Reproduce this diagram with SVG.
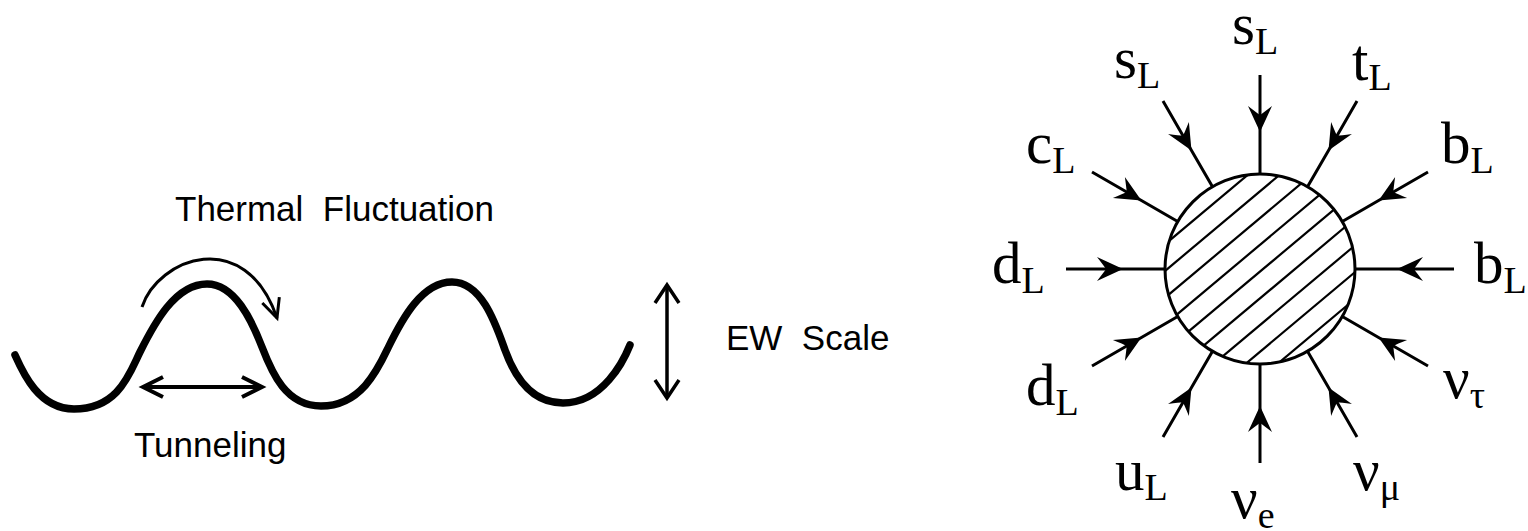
<svg xmlns="http://www.w3.org/2000/svg" width="1528" height="531" viewBox="0 0 1528 531">
<style>
.sans{font-family:"Liberation Sans",Arial,sans-serif;font-size:35px;fill:#000;white-space:pre}
.lab{font-family:"Liberation Serif","Times New Roman",serif;font-size:59px;fill:#000}
.sub{font-size:38px}
.conn{fill:none;stroke:#000;stroke-width:3;marker-mid:url(#dart)}
.hatch{stroke:#000;stroke-width:2.2}
</style>
<defs>
<marker id="dart" markerUnits="userSpaceOnUse" viewBox="-30 -15 32 30" refX="0" refY="0" markerWidth="32" markerHeight="30" orient="auto" overflow="visible">
<path d="M0,0 L-26,-12 Q-19,-3 -17,0 Q-19,3 -26,12 Z" fill="#000"/>
</marker>
<marker id="vTun" markerUnits="userSpaceOnUse" viewBox="-26 -14 30 28" refX="0" refY="0" markerWidth="30" markerHeight="28" orient="auto-start-reverse" overflow="visible">
<path d="M-20,-10 L0,0 L-20,10" fill="none" stroke="#000" stroke-width="4"/>
</marker>
<marker id="vEW" markerUnits="userSpaceOnUse" viewBox="-22 -14 26 28" refX="0" refY="0" markerWidth="26" markerHeight="28" orient="auto-start-reverse" overflow="visible">
<path d="M-18,-12 L0,0 L-18,12" fill="none" stroke="#000" stroke-width="3.5"/>
</marker>
<marker id="vTh" markerUnits="userSpaceOnUse" viewBox="-22 -12 26 24" refX="0" refY="0" markerWidth="26" markerHeight="24" orient="auto" overflow="visible">
<path d="M-19,-9 L0,0 L-19,9" fill="none" stroke="#000" stroke-width="3"/>
</marker>
<clipPath id="disc"><circle cx="1260" cy="269" r="95"/></clipPath>
</defs>

<g id="potential">
<path d="M15,355 C23,373 39,409 74,409 C119,409 130,372 140,352 C154,324 175,284 207,284 C235,284 252,321 262,347 C272,373 286,406 321,406 C361,406 378,369 388,348 C402,319 422,282 452,282 C482,282 496,325 505,350 C514,375 531,403 563,403 C603,403 624,360 630,345" fill="none" stroke="#000" stroke-width="7.5" stroke-linecap="round"/>
</g>

<g id="thermal">
<path d="M142,307 C158,258 245,225 277,318" fill="none" stroke="#000" stroke-width="3" marker-end="url(#vTh)"/>
<text class="sans" x="175" y="221" xml:space="preserve">Thermal  Fluctuation</text>
</g>

<g id="tunneling">
<line x1="143" y1="387" x2="262" y2="387" stroke="#000" stroke-width="4" marker-start="url(#vTun)" marker-end="url(#vTun)"/>
<text class="sans" x="134" y="457">Tunneling</text>
</g>

<g id="ewscale">
<line x1="667" y1="285" x2="667" y2="398" stroke="#000" stroke-width="3.5" marker-start="url(#vEW)" marker-end="url(#vEW)"/>
<text class="sans" x="726" y="350" xml:space="preserve">EW  Scale</text>
</g>

<g id="blob">
<circle cx="1260" cy="269" r="95" fill="#fff"/>
<g clip-path="url(#disc)">
<line class="hatch" x1="1124.3" y1="278.4" x2="1292.9" y2="137.0"/>
<line class="hatch" x1="1137.4" y1="294.1" x2="1306.0" y2="152.7"/>
<line class="hatch" x1="1150.6" y1="309.8" x2="1319.2" y2="168.4"/>
<line class="hatch" x1="1163.8" y1="325.5" x2="1332.4" y2="184.1"/>
<line class="hatch" x1="1177.0" y1="341.2" x2="1345.6" y2="199.8"/>
<line class="hatch" x1="1190.2" y1="356.9" x2="1358.8" y2="215.5"/>
<line class="hatch" x1="1203.3" y1="372.6" x2="1371.9" y2="231.2"/>
<line class="hatch" x1="1216.5" y1="388.3" x2="1385.1" y2="246.9"/>
<line class="hatch" x1="1229.7" y1="404.0" x2="1398.3" y2="262.6"/>
</g>
<circle cx="1260" cy="269" r="95" fill="none" stroke="#000" stroke-width="3"/>
</g>

<g id="connectors">
<path class="conn" d="M1454,269 L1397,269 L1355,269"/>
<path class="conn" d="M1428,172 L1378.6,200.5 L1342.3,221.5"/>
<path class="conn" d="M1357,101 L1328.5,150.4 L1307.5,186.7"/>
<path class="conn" d="M1260,75 L1260,132 L1260,174"/>
<path class="conn" d="M1163,101 L1191.5,150.4 L1212.5,186.7"/>
<path class="conn" d="M1092,172 L1141.4,200.5 L1177.7,221.5"/>
<path class="conn" d="M1066,269 L1123,269 L1165,269"/>
<path class="conn" d="M1092,366 L1141.4,337.5 L1177.7,316.5"/>
<path class="conn" d="M1163,437 L1191.5,387.6 L1212.5,351.3"/>
<path class="conn" d="M1260,463 L1260,406 L1260,364"/>
<path class="conn" d="M1357,437 L1328.5,387.6 L1307.5,351.3"/>
<path class="conn" d="M1428,366 L1378.6,337.5 L1342.3,316.5"/>
</g>

<g id="labels">
<text id="l-s-top" class="lab" x="1232" y="44">s<tspan class="sub" dy="10">L</tspan></text>
<text id="l-s-120" class="lab" x="1114" y="78">s<tspan class="sub" dy="10">L</tspan></text>
<text id="l-t" class="lab" x="1352" y="80">t<tspan class="sub" dy="10">L</tspan></text>
<text id="l-c" class="lab" x="1026" y="163">c<tspan class="sub" dy="10">L</tspan></text>
<text id="l-b-30" class="lab" x="1441" y="163">b<tspan class="sub" dy="10">L</tspan></text>
<text id="l-d-180" class="lab" x="992" y="283">d<tspan class="sub" dy="10">L</tspan></text>
<text id="l-b-0" class="lab" x="1474" y="283">b<tspan class="sub" dy="10">L</tspan></text>
<text id="l-d-210" class="lab" x="1026" y="405">d<tspan class="sub" dy="10">L</tspan></text>
<text id="l-u" class="lab" x="1115" y="490">u<tspan class="sub" dy="10">L</tspan></text>
<text id="l-nue" class="lab" x="1231" y="518">ν<tspan class="sub" dy="10">e</tspan></text>
<text id="l-numu" class="lab" x="1353" y="490">ν<tspan class="sub" dy="10">μ</tspan></text>
<text id="l-nutau" class="lab" x="1443" y="398">ν<tspan class="sub" dy="10">τ</tspan></text>
</g>
</svg>
